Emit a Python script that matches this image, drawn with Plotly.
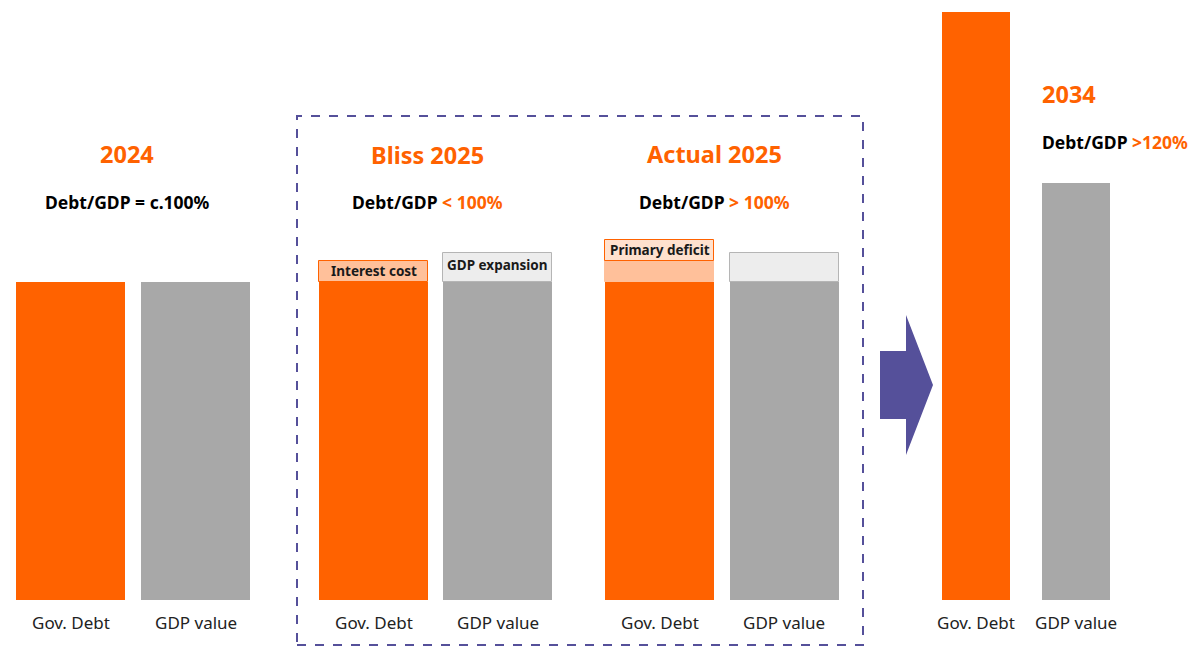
import plotly.graph_objects as go

# Colours
ORANGE = '#FF6200'
ORANGE_LIGHT = '#FFC09A'
ORANGE_PALE = '#FFE1CE'
GREY = '#A8A8A8'
GREY_LIGHT = '#EDEDED'
PURPLE = '#55509A'

W, H = 1196, 651

# Data (bar heights, 2024 debt = 100)
scenarios = ['2024', 'Bliss 2025', 'Actual 2025', '2034']
debt_base = [100, 100, 100, 184.8]
gdp_base = [100, 100, 100, 131.0]
interest_cost = [0, 6.6, 6.6, 0]
primary_deficit = [0, 0, 6.6, 0]
gdp_expansion = [0, 9.1, 9.1, 0]

bar_labels = ['Gov. Debt', 'GDP value']
headline = ['2024', 'Bliss 2025', 'Actual 2025', '2034']
ratio_text = ['Debt/GDP = c.100%', 'Debt/GDP <span style="color:#FF6200">&lt; 100%</span>',
              'Debt/GDP <span style="color:#FF6200">&gt; 100%</span>',
              'Debt/GDP <span style="color:#FF6200">&gt;120%</span>']

# Layout positions (pixels)
debt_x = [70.5, 373.5, 659.5, 976]
gdp_x = [195.5, 497.5, 784, 1076]
bar_w = [109, 109, 109, 68]
title_x = [127, 427, 714]

# y axis: 0 sits at pixel 599.5, 3.18 px per unit
px_per_unit = 3.18
y_zero_px = 599.5
y_range = [-(H - y_zero_px) / px_per_unit, y_zero_px / px_per_unit]


def py(p):
    # pixel row -> paper y
    return 1 - p / H


fig = go.Figure()

# Base bars
fig.add_trace(go.Bar(x=debt_x, y=debt_base, width=bar_w, marker_color=ORANGE,
                     marker_line_width=0, hoverinfo='skip'))
fig.add_trace(go.Bar(x=gdp_x, y=gdp_base, width=bar_w, marker_color=GREY,
                     marker_line_width=0, hoverinfo='skip'))

# Interest cost on top of debt
ic_base = debt_base
fig.add_trace(go.Bar(x=debt_x[1:3], y=interest_cost[1:3], base=ic_base[1:3], width=bar_w[1:3],
                     marker_color=ORANGE_LIGHT,
                     marker_line=dict(color=[ORANGE, ORANGE_LIGHT], width=1),
                     hoverinfo='skip'))

# Primary deficit on top of that
pd_base = [d + i for d, i in zip(debt_base, interest_cost)]
fig.add_trace(go.Bar(x=debt_x[2:3], y=primary_deficit[2:3], base=pd_base[2:3], width=bar_w[2:3],
                     marker_color=ORANGE_PALE, marker_line=dict(color=ORANGE, width=1),
                     hoverinfo='skip'))

# GDP expansion on top of GDP
fig.add_trace(go.Bar(x=gdp_x[1:3], y=gdp_expansion[1:3], base=gdp_base[1:3], width=bar_w[1:3],
                     marker_color=GREY_LIGHT, marker_line=dict(color='#B5B5B5', width=1),
                     hoverinfo='skip'))

fig.update_layout(
    width=W, height=H,
    margin=dict(l=0, r=0, t=0, b=0),
    paper_bgcolor='white', plot_bgcolor='white',
    barmode='overlay', bargap=0,
    showlegend=False,
    font=dict(family='Noto Sans', color='#1A1A1A'),
    xaxis=dict(range=[0, W], visible=False, fixedrange=True),
    yaxis=dict(range=y_range, visible=False, fixedrange=True),
)

# Segment labels
seg_font = dict(size=13.5, color='#1A1A1A', family='Noto Sans')
fig.add_annotation(x=debt_x[1], y=ic_base[1] + interest_cost[1] / 2, text='<b>Interest cost</b>',
                   showarrow=False, font=seg_font, xanchor='center', yanchor='middle')
fig.add_annotation(x=gdp_x[1], y=gdp_base[1] + gdp_expansion[1] / 2 + 0.6, text='<b>GDP expansion</b>',
                   showarrow=False, font=seg_font, xanchor='center', yanchor='middle')
fig.add_annotation(x=debt_x[2], y=pd_base[2] + primary_deficit[2] / 2, text='<b>Primary deficit</b>',
                   showarrow=False, font=seg_font, xanchor='center', yanchor='middle')

# Headlines and ratios
title_font = dict(size=23.5, color=ORANGE, family='Noto Sans')
ratio_font = dict(size=17.5, color='#000000', family='Noto Sans')
title_px = [154, 155, 154]
for i in range(3):
    fig.add_annotation(x=title_x[i], y=py(title_px[i]), yref='paper', text='<b>' + headline[i] + '</b>',
                       showarrow=False, font=title_font, xanchor='center', yanchor='middle')
    fig.add_annotation(x=title_x[i], y=py(202), yref='paper', text='<b>' + ratio_text[i] + '</b>',
                       showarrow=False, font=ratio_font, xanchor='center', yanchor='middle')
fig.add_annotation(x=1040, y=py(94), yref='paper', xanchor='left', yanchor='middle',
                   text='<b>' + headline[3] + '</b>', showarrow=False, font=title_font)
fig.add_annotation(x=1040, y=py(142), yref='paper', xanchor='left', yanchor='middle',
                   text='<b>' + ratio_text[3] + '</b>', showarrow=False, font=ratio_font)

# Bar labels below
lab_font = dict(size=17, color='#222222', family='Noto Sans')
for i in range(4):
    fig.add_annotation(x=debt_x[i], y=py(622), yref='paper', text=bar_labels[0],
                       showarrow=False, font=lab_font, xanchor='center', yanchor='middle')
    fig.add_annotation(x=gdp_x[i], y=py(622), yref='paper', text=bar_labels[1],
                       showarrow=False, font=lab_font, xanchor='center', yanchor='middle')

# Dashed box around 2025 scenarios
fig.add_shape(type='rect', xref='x', yref='paper', x0=297, x1=863, y0=py(645), y1=py(116),
              line=dict(color=PURPLE, width=2, dash='dash'), fillcolor='rgba(0,0,0,0)')

# Arrow
pts = [(880, 351), (906, 351), (906, 315), (933, 385), (906, 455), (906, 419), (880, 419)]
path = 'M ' + ' L '.join(f'{x},{py(y)}' for x, y in pts) + ' Z'
fig.add_shape(type='path', xref='x', yref='paper', path=path,
              fillcolor=PURPLE, line=dict(width=0))

# drop the page margin so the figure sits at the window corner
fig.write_html('out.html', config={'displayModeBar': False},
               post_script="document.body.style.margin='0';")
